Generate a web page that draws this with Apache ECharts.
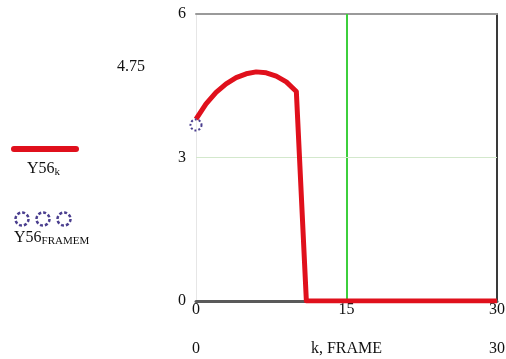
<!DOCTYPE html>
<html>
<head>
<meta charset="utf-8">
<script src="https://cdn.jsdelivr.net/npm/echarts@6/dist/echarts.min.js"></script>
<style>
  html, body { margin: 0; padding: 0; background: #fff; }
  #chart { width: 506px; height: 359px; }
</style>
</head>
<body>
<div id="chart"></div>
<script>
// k = 0..30
const kValues = [0, 1, 2, 3, 4, 5, 6, 7, 8, 9, 10, 11, 12, 13, 14, 15, 16, 17, 18, 19, 20,
  21, 22, 23, 24, 25, 26, 27, 28, 29, 30];
const y56k = [3.8, 4.12, 4.36, 4.54, 4.67, 4.75, 4.79, 4.77, 4.7, 4.58, 4.38, 0, 0, 0, 0, 0,
  0, 0, 0, 0, 0, 0, 0, 0, 0, 0, 0, 0, 0, 0, 0];
const frameK = [0];
const y56Frame = [3.68];
const xTicks = [0, 15, 30];
const yTicks = [0, 3, 6];
const markerX = 15;
const markerY = 3;

const serif = "'Liberation Serif', 'DejaVu Serif', serif";
const ink = '#111';
const chart = echarts.init(document.getElementById('chart'));

const labelStyle = { color: ink, fontSize: 16, fontFamily: serif };

const option = {
  animation: false,
  backgroundColor: '#fff',
  textStyle: { fontFamily: serif },
  grid: { left: 196, right: 9, top: 14, bottom: 58, outerBoundsMode: 'none', containLabel: false },
  xAxis: [
    {
      type: 'value', min: xTicks[0], max: xTicks[2], interval: xTicks[1] - xTicks[0],
      position: 'bottom',
      axisLine: { onZero: false, lineStyle: { color: '#5a5a5a', width: 3 } },
      axisTick: { show: false },
      splitLine: { show: false },
      axisLabel: { ...labelStyle, margin: 1 }
    },
    {
      type: 'value', min: xTicks[0], max: xTicks[2], interval: xTicks[2] - xTicks[0],
      position: 'bottom', offset: 38,
      axisLine: { show: false, onZero: false }, axisTick: { show: false }, splitLine: { show: false },
      axisLabel: { ...labelStyle, margin: 2 },
      name: 'k, FRAME', nameLocation: 'middle', nameGap: 2, nameMoveOverlap: false,
      nameTextStyle: { ...labelStyle, verticalAlign: 'top' }
    },
    {
      type: 'value', min: xTicks[0], max: xTicks[2], position: 'top',
      axisLine: { onZero: false, lineStyle: { color: '#9a9a9a', width: 2 } },
      axisTick: { show: false }, axisLabel: { show: false }, splitLine: { show: false }
    }
  ],
  yAxis: [
    {
      type: 'value', min: yTicks[0], max: yTicks[2], interval: yTicks[1] - yTicks[0],
      position: 'left',
      axisLine: { show: true, onZero: false, lineStyle: { color: '#e6e6e6', width: 1 } },
      axisTick: { show: false },
      splitLine: { show: false },
      axisLabel: { ...labelStyle, margin: 10 }
    },
    {
      type: 'value', min: yTicks[0], max: yTicks[2], position: 'right',
      axisLine: { show: true, onZero: false, lineStyle: { color: '#3a3a3a', width: 2 } },
      axisTick: { show: false }, axisLabel: { show: false }, splitLine: { show: false }
    }
  ],
  series: [
    {
      name: 'Y56k',
      type: 'line',
      data: kValues.map((k, i) => [k, y56k[i]]),
      smooth: false,
      showSymbol: false,
      lineStyle: { color: '#e0101c', width: 5, join: 'round' },
      z: 5,
      markLine: {
        silent: true,
        symbol: 'none',
        label: { show: false },
        data: [
          { xAxis: markerX, lineStyle: { color: '#3ccf3c', width: 2, type: 'solid' } },
          { yAxis: markerY, lineStyle: { color: '#d3e8cc', width: 1, type: 'solid' } }
        ]
      }
    },
    {
      name: 'Y56FRAMEM',
      type: 'line',
      data: frameK.map((k, i) => [k, y56Frame[i]]),
      showSymbol: true,
      symbol: 'circle',
      symbolSize: 11,
      lineStyle: { width: 0 },
      itemStyle: { color: 'rgba(0,0,0,0)', borderColor: '#4b3f8f', borderWidth: 2, borderType: 'dotted' },
      z: 6
    }
  ],
  graphic: [
    {
      type: 'text', left: 117, top: 59,
      style: { text: '4.75', font: '16px ' + serif, fill: ink }
    },
    {
      type: 'line', shape: { x1: 14, y1: 149, x2: 76, y2: 149 },
      style: { stroke: '#e0101c', lineWidth: 6, lineCap: 'round' }
    },
    {
      type: 'text', left: 27, top: 161,
      style: {
        text: '{a|Y56}{s|k}', fill: ink,
        rich: {
          a: { fontFamily: serif, fontSize: 16, fill: ink },
          s: { fontFamily: serif, fontSize: 11, fill: ink, padding: [7, 0, 0, 0] }
        }
      }
    },
    {
      type: 'circle', shape: { cx: 22, cy: 219, r: 6.5 },
      style: { fill: 'none', stroke: '#4b3f8f', lineWidth: 2.5, lineDash: [3, 2] }
    },
    {
      type: 'circle', shape: { cx: 43, cy: 219, r: 6.5 },
      style: { fill: 'none', stroke: '#4b3f8f', lineWidth: 2.5, lineDash: [3, 2] }
    },
    {
      type: 'circle', shape: { cx: 64, cy: 219, r: 6.5 },
      style: { fill: 'none', stroke: '#4b3f8f', lineWidth: 2.5, lineDash: [3, 2] }
    },
    {
      type: 'text', left: 14, top: 230,
      style: {
        text: '{a|Y56}{s|FRAMEM}', fill: ink,
        rich: {
          a: { fontFamily: serif, fontSize: 16, fill: ink },
          s: { fontFamily: serif, fontSize: 11, fill: ink, padding: [7, 0, 0, 0] }
        }
      }
    }
  ]
};

chart.setOption(option);
</script>
</body>
</html>
